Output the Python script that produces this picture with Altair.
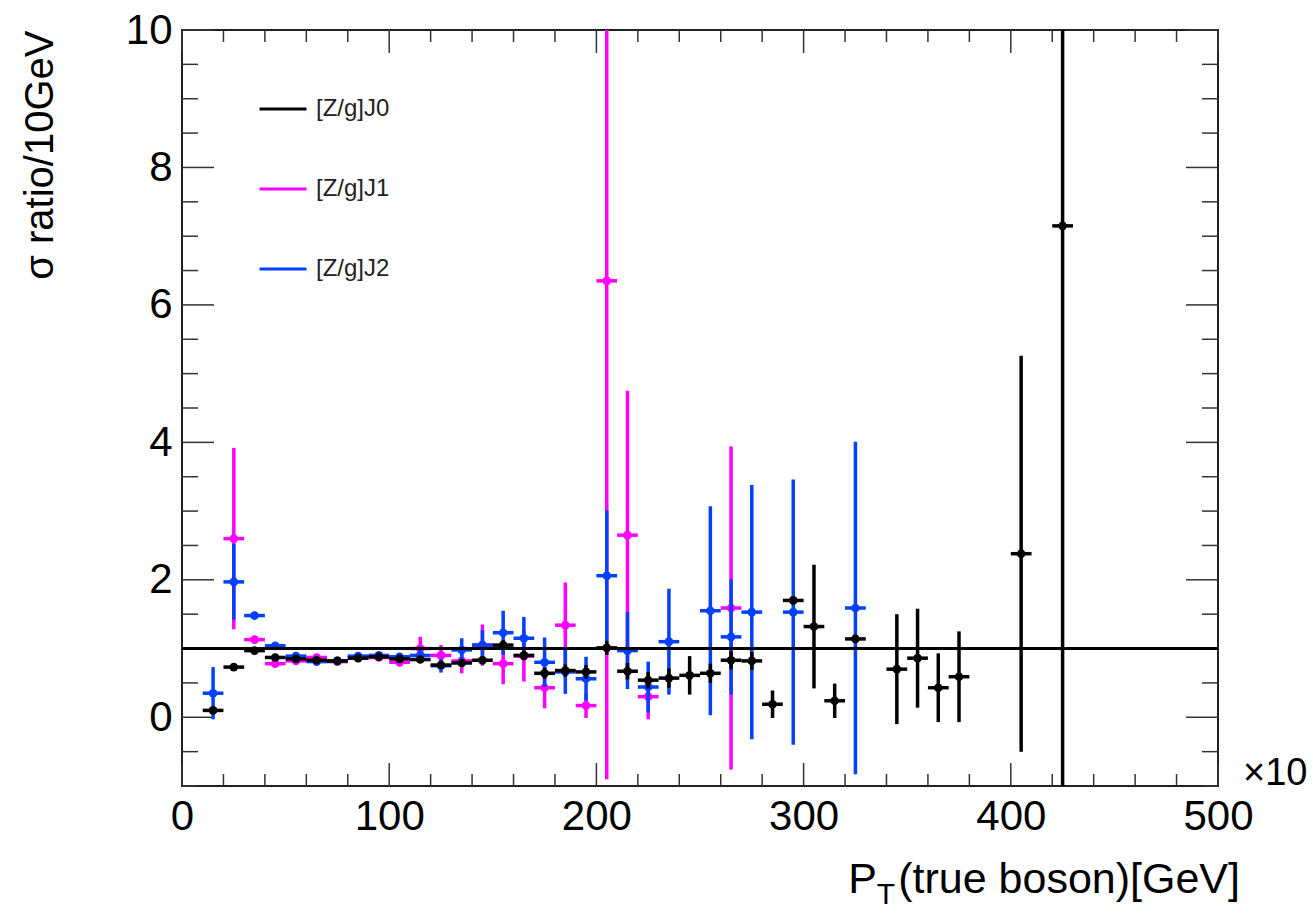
import altair as alt
import pandas as pd

# ---------------- data ----------------
series_names = ["[Z/g]J0", "[Z/g]J1", "[Z/g]J2"]
series_colors = ["#000000", "#ff00ff", "#0040ff"]

bin_half = 5  # half bin width in GeV

# [Z/g]J0 (black)
x0 = [15, 25, 35, 45, 55, 65, 75, 85, 95, 105, 115, 125, 135, 145, 155, 165, 175, 185,
      195, 205, 215, 225, 235, 245, 255, 265, 275, 285, 295, 305, 315, 325, 345, 355,
      365, 375, 405, 425]
y0 = [0.10, 0.73, 0.97, 0.87, 0.85, 0.83, 0.82, 0.86, 0.88, 0.85, 0.84, 0.76, 0.79, 0.83,
      1.05, 0.90, 0.64, 0.68, 0.66, 1.01, 0.67, 0.54, 0.57, 0.61, 0.64, 0.83, 0.82, 0.19,
      1.70, 1.32, 0.24, 1.14, 0.70, 0.86, 0.43, 0.59, 2.38, 7.15]
e0 = [0.04, 0.05, 0.04, 0.03, 0.03, 0.03, 0.03, 0.03, 0.03, 0.03, 0.04, 0.05, 0.05, 0.06,
      0.07, 0.07, 0.08, 0.09, 0.10, 0.10, 0.12, 0.12, 0.14, 0.28, 0.14, 0.13, 0.13, 0.20,
      0.06, 0.90, 0.25, 0.06, 0.80, 0.72, 0.50, 0.66, 2.88, 8.60]

# [Z/g]J1 (magenta)
x1 = [25, 35, 45, 55, 65, 75, 85, 95, 105, 115, 125, 135, 145, 155, 165, 175, 185, 195,
      205, 215, 225, 265]
y1 = [2.60, 1.13, 0.78, 0.82, 0.87, 0.81, 0.88, 0.87, 0.80, 1.00, 0.90, 0.82, 1.05, 0.78,
      0.89, 0.43, 1.34, 0.17, 6.35, 2.65, 0.30, 1.59]
e1 = [1.32, 0.04, 0.03, 0.03, 0.03, 0.04, 0.04, 0.05, 0.06, 0.17, 0.15, 0.18, 0.30, 0.30,
      0.37, 0.30, 0.62, 0.18, 7.25, 2.10, 0.33, 2.35]

# [Z/g]J2 (blue)
x2 = [15, 25, 35, 45, 55, 65, 75, 85, 95, 105, 115, 125, 135, 145, 155, 165, 175, 185,
      195, 205, 215, 225, 235, 255, 265, 275, 295, 325]
y2 = [0.35, 1.97, 1.48, 1.04, 0.89, 0.81, 0.82, 0.89, 0.90, 0.88, 0.90, 0.75, 0.98, 1.05,
      1.23, 1.15, 0.80, 0.66, 0.56, 2.06, 0.97, 0.44, 1.10, 1.55, 1.17, 1.53, 1.53, 1.59]
e2 = [0.38, 0.55, 0.04, 0.04, 0.04, 0.04, 0.04, 0.04, 0.05, 0.05, 0.08, 0.10, 0.17, 0.22,
      0.32, 0.31, 0.36, 0.32, 0.32, 0.95, 0.56, 0.37, 0.77, 1.52, 0.84, 1.85, 1.93, 2.42]

reference_level = [1.0]

x_major = [0, 100, 200, 300, 400, 500]
x_minor = [v for v in range(0, 501, 20) if v % 100 != 0]
y_major = [0, 2, 4, 6, 8, 10]
y_minor = [v / 2 for v in range(-2, 21) if v % 4 != 0]

x_title = "(true boson)[GeV]"
y_title = "σ ratio/10GeV"

# ---------------- build tables ----------------
def table(name, xs, ys, es):
    return pd.DataFrame({
        "series": name,
        "x": xs,
        "y": ys,
        "xlo": [v - bin_half for v in xs],
        "xhi": [v + bin_half for v in xs],
        "ylo": [v - e for v, e in zip(ys, es)],
        "yhi": [v + e for v, e in zip(ys, es)],
    })

d0 = table(series_names[0], x0, y0, e0)
d1 = table(series_names[1], x1, y1, e1)
d2 = table(series_names[2], x2, y2, e2)

W, H = 1036, 756
FONT = "Liberation Sans"

xs = alt.Scale(domain=[0, 500], nice=False, zero=False)
ys = alt.Scale(domain=[-1, 10], nice=False, zero=False)
cs = alt.Scale(domain=series_names, range=series_colors)

legend = alt.Legend(
    orient="none", legendX=76, legendY=54, title=None,
    symbolType="stroke", symbolSize=2209, symbolStrokeWidth=3,
    labelFont=FONT, labelFontSize=24, labelColor="#222222",
    labelOffset=8, rowPadding=43,
)

x_axis = alt.Axis(values=x_major, ticks=False, domain=False, grid=False, title=None,
                  format="d",
                  labelFont=FONT, labelFontSize=42, labelColor="#000000", labelPadding=10,
                  labelFlush=False)
y_axis = alt.Axis(values=y_major, ticks=False, domain=False, grid=False, title=y_title,
                  format="d",
                  labelFont=FONT, labelFontSize=42, labelColor="#000000", labelPadding=10,
                  titleFont=FONT, titleFontSize=40, titleFontWeight="normal", titleColor="#000000",
                  titleAngle=270, titleAlign="right", titleBaseline="middle",
                  titleX=-142, titleY=0, labelFlush=False)


def series_layers(d, with_legend):
    base = alt.Chart(d)
    color = alt.Color("series:N", scale=cs, legend=legend if with_legend else None)
    vert = base.mark_rule(strokeWidth=3.5, clip=True).encode(
        x=alt.X("x:Q", scale=xs, axis=x_axis),
        y=alt.Y("ylo:Q", scale=ys, axis=y_axis),
        y2="yhi:Q",
        color=color,
    )
    horiz = base.mark_rule(strokeWidth=3.5, clip=True).encode(
        x=alt.X("xlo:Q", scale=xs), x2="xhi:Q",
        y=alt.Y("y:Q", scale=ys),
        color=alt.Color("series:N", scale=cs, legend=None),
    )
    pts = base.mark_circle(size=75, opacity=1, clip=True).encode(
        x=alt.X("x:Q", scale=xs),
        y=alt.Y("y:Q", scale=ys),
        color=alt.Color("series:N", scale=cs, legend=None),
    )
    return [vert, horiz, pts]


ref_line = alt.Chart(pd.DataFrame({"y": reference_level})).mark_rule(
    color="#000000", strokeWidth=3).encode(
    y=alt.Y("y:Q", scale=ys), x=alt.value(0), x2=alt.value(W))

# ROOT style ticks (inside the frame, on all four sides)
tick_color = "#333333"
def yticks(vals, length):
    d = pd.DataFrame({"v": vals})
    left = alt.Chart(d).mark_rule(color=tick_color, strokeWidth=1.5).encode(
        y=alt.Y("v:Q", scale=ys), x=alt.value(0), x2=alt.value(length))
    right = alt.Chart(d).mark_rule(color=tick_color, strokeWidth=1.5).encode(
        y=alt.Y("v:Q", scale=ys), x=alt.value(W - length), x2=alt.value(W))
    return [left, right]

def xticks(vals, length):
    d = pd.DataFrame({"v": vals})
    bottom = alt.Chart(d).mark_rule(color=tick_color, strokeWidth=1.5).encode(
        x=alt.X("v:Q", scale=xs), y=alt.value(H - length), y2=alt.value(H))
    top = alt.Chart(d).mark_rule(color=tick_color, strokeWidth=1.5).encode(
        x=alt.X("v:Q", scale=xs), y=alt.value(0), y2=alt.value(length))
    return [bottom, top]

ticks = yticks(y_major, 32) + yticks(y_minor, 16) + xticks(x_major, 23) + xticks(x_minor, 12)

# x-axis title built from pieces (for the subscript T)
title_main = alt.Chart(pd.DataFrame({"t": [x_title]})).mark_text(
    font=FONT, fontSize=43, align="right", baseline="alphabetic", color="#000000",
    dx=22, dy=107).encode(x=alt.datum(500, scale=xs), y=alt.datum(-1, scale=ys), text="t:N")
title_sub = alt.Chart(pd.DataFrame({"t": ["T"]})).mark_text(
    font=FONT, fontSize=30, align="right", baseline="alphabetic", color="#000000",
    dx=-323, dy=118).encode(x=alt.datum(500, scale=xs), y=alt.datum(-1, scale=ys), text="t:N")
title_p = alt.Chart(pd.DataFrame({"t": ["P"]})).mark_text(
    font=FONT, fontSize=43, align="right", baseline="alphabetic", color="#000000",
    dx=-341, dy=107).encode(x=alt.datum(500, scale=xs), y=alt.datum(-1, scale=ys), text="t:N")
times10 = alt.Chart(pd.DataFrame({"t": ["×10"]})).mark_text(
    font=FONT, fontSize=38, align="left", baseline="middle", color="#000000",
    dx=25, dy=-12).encode(x=alt.datum(500, scale=xs), y=alt.datum(-1, scale=ys), text="t:N")

layers = (ticks
          + series_layers(d1, True)
          + series_layers(d2, False)
          + [ref_line]
          + series_layers(d0, False)
          + [title_main, title_sub, title_p, times10])

chart = alt.layer(*layers).properties(
    width=W, height=H,
    padding={"left": 182, "top": 30, "right": 95, "bottom": 132},
    autosize=alt.AutoSizeParams(type="none"),
    background="white",
).configure_view(stroke="#222222", strokeWidth=2)

chart.save("out.html", embed_options={"renderer": "svg", "actions": False})
